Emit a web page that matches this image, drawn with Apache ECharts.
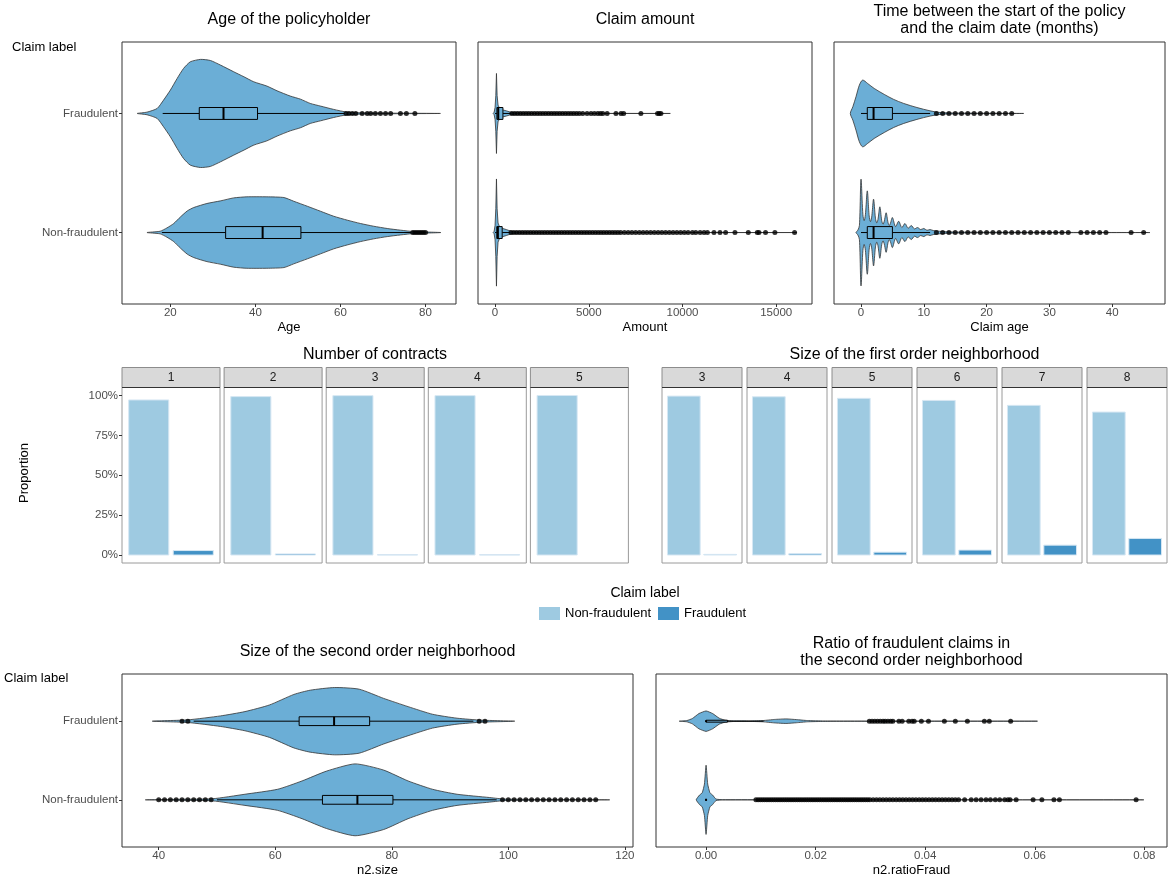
<!DOCTYPE html>
<html>
<head>
<meta charset="utf-8">
<script src="https://cdn.jsdelivr.net/npm/echarts@6/dist/echarts.min.js"></script>
<style>
  html, body { margin: 0; padding: 0; background: #ffffff; }
  #chart { width: 1168px; height: 878px; }
</style>
</head>
<body>
<div id="chart"></div>
<script>
// ---------------------------------------------------------------------------
// Data
// ---------------------------------------------------------------------------
const claimLabels = ['Non-fraudulent', 'Fraudulent'];

// Violin outlines: [value, half-width of the violin in category units]
// Box statistics: [lower whisker, Q1, median, Q3, upper whisker]

// Age of the policyholder
const ageNonFraudDensity = [[14.5,0],[17.6,0.011],[19.2,0.039],[20.8,0.076],[22.4,0.132],[24,0.182],[25.5,0.21],[28.6,0.244],[31.8,0.266],[34.9,0.291],[38,0.3],[42.7,0.3],[46.7,0.294],[49,0.263],[52.2,0.221],[55.3,0.179],[58.4,0.137],[61.6,0.104],[64.7,0.076],[67.8,0.053],[71,0.034],[74.1,0.02],[77.3,0.008],[83.6,0]];
const ageFraudDensity = [[12.2,0],[14.5,0.011],[16.9,0.042],[18.4,0.112],[20,0.196],[21.6,0.294],[23.1,0.378],[24.7,0.434],[27.1,0.454],[29.4,0.445],[31.8,0.406],[34.9,0.35],[37.3,0.308],[39.6,0.266],[42.7,0.23],[45.1,0.19],[48.2,0.146],[50.6,0.12],[52.9,0.084],[55.3,0.062],[58.4,0.034],[61.6,0.011],[66.3,0.004],[83.5,0]];
const ageNonFraudBox = [18, 33, 41.7, 50.7, 76.7];
const ageFraudBox = [18.2, 26.8, 32.5, 40.5, 61];
const ageNonFraudOutliers = [77, 77.5, 78, 78.5, 79, 79.5, 80];
const ageFraudOutliers = [61.3, 62, 62.8, 63.6, 65.1, 66.3, 67.1, 68.2, 69.4, 70.6, 71.8, 74.1, 75.5, 77.5];
const ageTicks = [20, 40, 60, 80];

// Claim amount
const amountNonFraudDensity = [[-100,0],[-50,0.01],[0,0.06],[40,0.2],[75,0.45],[110,0.2],[160,0.08],[250,0.045],[400,0.035],[600,0.025],[800,0.014],[1000,0.007],[1500,0.003],[3000,0.001],[16100,0]];
const amountFraudDensity = [[-100,0],[-50,0.01],[0,0.05],[40,0.15],[75,0.336],[110,0.15],[160,0.07],[250,0.04],[400,0.03],[600,0.022],[800,0.012],[1000,0.006],[1500,0.003],[2500,0.001],[9350,0]];
const amountNonFraudBox = [0, 95, 150, 380, 820];
const amountFraudBox = [0, 100, 170, 420, 880];
const amountNonFraudOutliers = [850, 1000, 1150, 1300, 1450, 1600, 1750, 1900, 2050, 2200, 2350, 2500, 2650, 2800, 2950, 3100, 3250, 3400, 3550, 3700, 3850, 4000, 4150, 4300, 4450, 4600, 4750, 4900, 5050, 5200, 5350, 5500, 5650, 5800, 5950, 6100, 6250, 6400, 6550, 6700, 6900, 7100, 7300, 7500, 7700, 7900, 8100, 8300, 8500, 8700, 8900, 9100, 9300, 9500, 9700, 9900, 10100, 10300, 10530, 10710, 10940, 11150, 11330, 11680, 12000, 12300, 12800, 13510, 13990, 14080, 14430, 14930, 15980];
const amountFraudOutliers = [900, 1050, 1200, 1350, 1500, 1650, 1800, 1950, 2100, 2250, 2400, 2550, 2700, 2850, 3000, 3150, 3300, 3450, 3600, 3750, 3900, 4050, 4200, 4350, 4500, 4680, 4910, 5120, 5300, 5480, 5620, 5750, 5980, 6450, 6720, 6860, 7780, 8670, 8760, 8850];
const amountTicks = [0, 5000, 10000, 15000];

// Time between the start of the policy and the claim date (months)
const claimAgeNonFraudDensity = [[-0.8,0],[-0.5,0.02],[-0.25,0.06],[0,0.448],[0.3,0.15],[0.5,0.1],[0.7,0.15],[1,0.35],[1.3,0.14],[1.5,0.092],[1.7,0.13],[2,0.28],[2.3,0.12],[2.5,0.081],[2.7,0.11],[3,0.216],[3.3,0.1],[3.5,0.07],[3.7,0.095],[4,0.166],[4.3,0.085],[4.5,0.059],[4.7,0.08],[5,0.126],[5.5,0.05],[6,0.095],[6.5,0.042],[7,0.076],[7.5,0.036],[8,0.059],[8.5,0.031],[9,0.042],[9.5,0.025],[10,0.034],[10.5,0.019],[11,0.025],[11.5,0.017],[12,0.014],[13,0.008],[15,0.004],[20,0.002],[46,0]];
const claimAgeFraudDensity = [[-1.7,0],[-1.3,0.056],[-0.8,0.14],[-0.26,0.238],[0.26,0.28],[1.05,0.252],[2.1,0.21],[3.7,0.16],[5.2,0.118],[6.8,0.084],[8.9,0.05],[11,0.022],[12.6,0.008],[15.7,0.003],[25.9,0]];
const claimAgeNonFraudBox = [0, 1, 2, 5, 11];
const claimAgeFraudBox = [0, 1, 2, 5, 11];
const claimAgeNonFraudOutliers = [12, 13, 14, 15, 16, 17, 18, 19, 20, 21, 22, 23, 24, 25, 26, 27, 28, 29, 30, 31, 32, 33, 35, 36, 37, 38, 39, 43, 45];
const claimAgeFraudOutliers = [12, 13, 14, 15, 16, 17, 18, 19, 20, 21, 22, 23, 24];
const claimAgeTicks = [0, 10, 20, 30, 40];

// Number of contracts (share of claims per label, %)
const contractLevels = ['1', '2', '3', '4', '5'];
const contractNonFraudPct = [97.2, 99.3, 99.9, 99.9, 100];
const contractFraudPct = [2.8, 0.7, 0.1, 0.1, 0];

// Size of the first order neighborhood (share of claims per label, %)
const n1Levels = ['3', '4', '5', '6', '7', '8'];
const n1NonFraudPct = [99.6, 99.2, 98.2, 96.9, 93.8, 89.6];
const n1FraudPct = [0.4, 0.8, 1.8, 3.1, 6.2, 10.4];
const proportionTicks = [0, 25, 50, 75, 100];

// Size of the second order neighborhood
const n2SizeNonFraudDensity = [[37.7,0],[43.6,0.006],[49.2,0.013],[54.8,0.071],[60.4,0.134],[64.6,0.24],[68.8,0.365],[73.7,0.457],[78.6,0.378],[82.8,0.24],[87,0.134],[91.2,0.071],[96.8,0.029],[99.6,0.008],[117.4,0]];
const n2SizeFraudDensity = [[38.9,0],[45,0.017],[50.6,0.067],[54.8,0.122],[59,0.206],[63.2,0.34],[66,0.394],[70.2,0.428],[74.4,0.407],[78.6,0.29],[82.8,0.185],[87,0.088],[91.2,0.038],[95.4,0.013],[101.1,0]];
const n2SizeNonFraudBox = [50, 68.1, 74.1, 80.2, 98];
const n2SizeFraudBox = [46, 64.1, 70.1, 76.2, 94];
const n2SizeNonFraudOutliers = [40, 41, 42, 43, 44, 45, 46, 47, 48, 49, 99, 100, 101, 102, 103, 104, 105, 106, 107, 108, 109, 110, 111, 112, 113, 114, 115];
const n2SizeFraudOutliers = [44, 45, 95, 96];
const n2SizeTicks = [40, 60, 80, 100, 120];

// Ratio of fraudulent claims in the second order neighborhood
const ratioNonFraudDensity = [[-0.0018,0],[-0.0012,0.06],[-0.0007,0.09],[-0.0003,0.2],[0,0.44],[0.0003,0.2],[0.0007,0.09],[0.0012,0.06],[0.0018,0.01],[0.003,0.002],[0.01,0.001],[0.0799,0]];
const ratioFraudDensity = [[-0.0049,0],[-0.0035,0.008],[-0.0025,0.034],[-0.0013,0.097],[0,0.13],[0.0012,0.097],[0.0024,0.038],[0.0035,0.012],[0.005,0.004],[0.008,0.003],[0.0104,0.008],[0.0125,0.022],[0.0146,0.029],[0.0165,0.02],[0.0185,0.008],[0.0215,0.003],[0.03,0.001],[0.0605,0]];
const ratioNonFraudBox = [0, 0, 0, 0, 0];
const ratioFraudBox = [0, 0, 0, 0.0039, 0.0105];
const ratioNonFraudOutliers = [0.0091,0.0095,0.0099,0.0103,0.0107,0.0111,0.0115,0.0119,0.0123,0.0127,0.0131,0.0135,0.0139,0.0143,0.0147,0.0151,0.0155,0.0159,0.0163,0.0167,0.0171,0.0175,0.0179,0.0183,0.0187,0.0191,0.0195,0.0199,0.0203,0.0207,0.0211,0.0215,0.0219,0.0223,0.0227,0.0231,0.0235,0.0239,0.0243,0.0247,0.0251,0.0255,0.0259,0.0263,0.0267,0.0271,0.0275,0.0279,0.0283,0.0287,0.0291,0.0295,0.0299,0.0305,0.0311,0.0317,0.0323,0.0329,0.0335,0.0341,0.0347,0.0353,0.0359,0.0365,0.0371,0.0377,0.0383,0.0389,0.0395,0.0401,0.0407,0.0413,0.0419,0.0425,0.0431,0.0437,0.0443,0.0449,0.0455,0.0461,0.0472,0.0484,0.0493,0.0502,0.0511,0.0519,0.0528,0.0536,0.0545,0.0551,0.0555,0.0566,0.0597,0.0613,0.0635,0.0645,0.0785];
const ratioFraudOutliers = [0.0298,0.0303,0.0308,0.0313,0.0318,0.0323,0.0327,0.0332,0.0337,0.0341,0.0352,0.0358,0.037,0.0376,0.038,0.0393,0.0406,0.0435,0.0455,0.0477,0.0508,0.0517,0.0556];
const ratioTicks = [0, 0.02, 0.04, 0.06, 0.08];

// ---------------------------------------------------------------------------
// Styling
// ---------------------------------------------------------------------------
const FONT = '"Liberation Sans", Arial, Helvetica, sans-serif';
const VIOLIN_FILL = '#6baed6';
const VIOLIN_LINE = '#333333';
const NONFRAUD_BAR = '#9ecae1';
const FRAUD_BAR = '#4292c6';
const BAR_EDGE = '#d6e7f3';
const TICK_TEXT = '#4d4d4d';
const TICK_SIZE = 11.5;
const NON_FRAUD_POS = 1;
const FRAUD_POS = 2;

const grids = [];
const xAxes = [];
const yAxes = [];
const series = [];
const graphics = [];

function violinSeries(g, pos, density, smooth) {
  return {
    type: 'custom', xAxisIndex: g, yAxisIndex: g, silent: true, z: 2,
    data: [[density[0][0], pos]],
    renderItem(params, api) {
      const upper = density.map(([v, w]) => api.coord([v, pos + w]));
      const lower = density.slice(1, -1).reverse().map(([v, w]) => api.coord([v, pos - w]));
      return {
        type: 'polygon',
        shape: { points: upper.concat(lower), smooth: smooth },
        style: { fill: VIOLIN_FILL, stroke: VIOLIN_LINE, lineWidth: 0.8 }
      };
    }
  };
}

function boxSeries(g, pos, stats, half) {
  return {
    type: 'custom', xAxisIndex: g, yAxisIndex: g, silent: true, z: 3,
    data: [[stats[2], pos]],
    renderItem(params, api) {
      const [lo, q1, med, q3, hi] = stats;
      const tl = api.coord([q1, pos + half]);
      const br = api.coord([q3, pos - half]);
      const wl = api.coord([lo, pos]);
      const wr = api.coord([hi, pos]);
      const bl = api.coord([q1, pos]);
      const bq = api.coord([q3, pos]);
      const mt = api.coord([med, pos + half]);
      const mb = api.coord([med, pos - half]);
      return {
        type: 'group',
        children: [
          { type: 'line', shape: { x1: wl[0], y1: wl[1], x2: bl[0], y2: bl[1] }, style: { stroke: '#000', lineWidth: 1 } },
          { type: 'line', shape: { x1: bq[0], y1: bq[1], x2: wr[0], y2: wr[1] }, style: { stroke: '#000', lineWidth: 1 } },
          { type: 'rect', shape: { x: tl[0], y: tl[1], width: br[0] - tl[0], height: br[1] - tl[1] }, style: { fill: VIOLIN_FILL, stroke: '#000', lineWidth: 1 } },
          { type: 'line', shape: { x1: mt[0], y1: mt[1], x2: mb[0], y2: mb[1] }, style: { stroke: '#000', lineWidth: 2 } }
        ]
      };
    }
  };
}

function outlierSeries(g, pos, values) {
  return {
    type: 'scatter', xAxisIndex: g, yAxisIndex: g, silent: true, z: 4,
    symbol: 'circle', symbolSize: 5,
    itemStyle: { color: '#000' },
    data: values.map(v => [v, pos])
  };
}

function addViolinPanel(rect, axis, showCategories, parts) {
  const g = grids.length;
  grids.push({ left: rect[0], top: rect[1], width: rect[2], height: rect[3], show: true, borderColor: '#333', borderWidth: 1 });
  xAxes.push({
    gridIndex: g, type: 'value', min: axis.min, max: axis.max,
    name: axis.name, nameLocation: 'middle', nameGap: 17,
    nameTextStyle: { fontSize: 13, color: '#000', fontFamily: FONT },
    axisLine: { show: false }, splitLine: { show: false },
    axisTick: { show: true, length: 3, lineStyle: { color: '#333' }, customValues: axis.ticks },
    axisLabel: { customValues: axis.ticks, formatter: axis.format, fontSize: TICK_SIZE, color: TICK_TEXT, margin: 3, fontFamily: FONT }
  });
  yAxes.push({
    gridIndex: g, type: 'value', min: 0.4, max: 2.6,
    axisLine: { show: false }, splitLine: { show: false },
    axisTick: { show: showCategories, length: 3, lineStyle: { color: '#333' }, customValues: [NON_FRAUD_POS, FRAUD_POS] },
    axisLabel: { show: showCategories, customValues: [NON_FRAUD_POS, FRAUD_POS], formatter: v => claimLabels[Math.round(v) - 1], fontSize: TICK_SIZE, color: TICK_TEXT, margin: 4, fontFamily: FONT }
  });
  parts.forEach(p => series.push(violinSeries(g, p.pos, p.density, axis.smooth)));
  parts.forEach(p => {
    series.push(boxSeries(g, p.pos, p.box, axis.boxHalf));
    series.push(outlierSeries(g, p.pos, p.outliers));
  });
}

function barSeries(g, name, color, x, value) {
  return {
    type: 'custom', name: name, xAxisIndex: g, yAxisIndex: g, silent: true, z: 2,
    itemStyle: { color: color },
    data: [[x, value]],
    renderItem(params, api) {
      const cx = api.value(0);
      const v = api.value(1);
      if (!(v > 0)) return null;
      const a = api.coord([cx - 0.45, v]);
      const b = api.coord([cx + 0.45, 0]);
      return {
        type: 'rect',
        shape: { x: a[0], y: a[1], width: b[0] - a[0], height: b[1] - a[1] },
        style: { fill: color, stroke: BAR_EDGE, lineWidth: 1 }
      };
    }
  };
}

function addBarPanel(rect, level, nonFraud, fraud, showAxis) {
  const g = grids.length;
  grids.push({ left: rect[0], top: rect[1], width: rect[2], height: rect[3], show: true, borderColor: '#9a9a9a', borderWidth: 1 });
  xAxes.push({ gridIndex: g, type: 'value', min: 0.4, max: 2.6, show: false });
  yAxes.push({
    gridIndex: g, type: 'value', min: -5, max: 105, show: showAxis,
    axisLine: { show: false }, splitLine: { show: false },
    axisTick: { show: true, length: 3, lineStyle: { color: '#333' }, customValues: proportionTicks },
    axisLabel: { customValues: proportionTicks, formatter: v => v + '%', fontSize: TICK_SIZE, color: TICK_TEXT, margin: 4, fontFamily: FONT }
  });
  series.push(barSeries(g, claimLabels[0], NONFRAUD_BAR, NON_FRAUD_POS, nonFraud));
  series.push(barSeries(g, claimLabels[1], FRAUD_BAR, FRAUD_POS, fraud));
  // facet strip
  graphics.push({ type: 'rect', shape: { x: rect[0], y: rect[1] - 20, width: rect[2], height: 20 }, style: { fill: '#d9d9d9', stroke: '#8c8c8c', lineWidth: 1 }, silent: true });
  graphics.push({ type: 'line', shape: { x1: rect[0], y1: rect[1], x2: rect[0] + rect[2], y2: rect[1] }, style: { stroke: '#333', lineWidth: 1 }, silent: true, z: 10 });
  graphics.push({ type: 'text', x: rect[0] + rect[2] / 2, y: rect[1] - 10, style: { text: level, fill: '#1a1a1a', fontSize: 12, fontFamily: FONT, align: 'center', verticalAlign: 'middle' }, silent: true });
}

// ---------------------------------------------------------------------------
// Panels
// ---------------------------------------------------------------------------
const TOP_Y = 42, TOP_H = 262;
addViolinPanel([122, TOP_Y, 334, TOP_H],
  { min: 8.63, max: 87.17, ticks: ageTicks, name: 'Age', format: v => String(v), smooth: 0.2, boxHalf: 0.05 },
  true,
  [ { pos: NON_FRAUD_POS, density: ageNonFraudDensity, box: ageNonFraudBox, outliers: ageNonFraudOutliers },
    { pos: FRAUD_POS, density: ageFraudDensity, box: ageFraudBox, outliers: ageFraudOutliers } ]);

addViolinPanel([478, TOP_Y, 334, TOP_H],
  { min: -910, max: 16910, ticks: amountTicks, name: 'Amount', format: v => String(v), smooth: 0, boxHalf: 0.05 },
  false,
  [ { pos: NON_FRAUD_POS, density: amountNonFraudDensity, box: amountNonFraudBox, outliers: amountNonFraudOutliers },
    { pos: FRAUD_POS, density: amountFraudDensity, box: amountFraudBox, outliers: amountFraudOutliers } ]);

addViolinPanel([834, TOP_Y, 331, TOP_H],
  { min: -4.3, max: 48.4, ticks: claimAgeTicks, name: 'Claim age', format: v => String(v), smooth: 0.3, boxHalf: 0.05 },
  false,
  [ { pos: NON_FRAUD_POS, density: claimAgeNonFraudDensity, box: claimAgeNonFraudBox, outliers: claimAgeNonFraudOutliers },
    { pos: FRAUD_POS, density: claimAgeFraudDensity, box: claimAgeFraudBox, outliers: claimAgeFraudOutliers } ]);

const BAR_Y = 387.5, BAR_H = 175.5;
contractLevels.forEach((lvl, i) => {
  addBarPanel([122 + i * 102.1, BAR_Y, 98, BAR_H], lvl, contractNonFraudPct[i], contractFraudPct[i], i === 0);
});
n1Levels.forEach((lvl, i) => {
  addBarPanel([662 + i * 85, BAR_Y, 80, BAR_H], lvl, n1NonFraudPct[i], n1FraudPct[i], false);
});

const BOT_Y = 674, BOT_H = 174;
addViolinPanel([122, BOT_Y, 511, BOT_H],
  { min: 33.7, max: 121.4, ticks: n2SizeTicks, name: 'n2.size', format: v => String(v), smooth: 0.2, boxHalf: 0.056 },
  true,
  [ { pos: NON_FRAUD_POS, density: n2SizeNonFraudDensity, box: n2SizeNonFraudBox, outliers: n2SizeNonFraudOutliers },
    { pos: FRAUD_POS, density: n2SizeFraudDensity, box: n2SizeFraudBox, outliers: n2SizeFraudOutliers } ]);

addViolinPanel([656, BOT_Y, 511, BOT_H],
  { min: -0.00914, max: 0.08414, ticks: ratioTicks, name: 'n2.ratioFraud', format: v => v.toFixed(2), smooth: 0.15, boxHalf: 0.012 },
  false,
  [ { pos: NON_FRAUD_POS, density: ratioNonFraudDensity, box: ratioNonFraudBox, outliers: ratioNonFraudOutliers },
    { pos: FRAUD_POS, density: ratioFraudDensity, box: ratioFraudBox, outliers: ratioFraudOutliers } ]);

// Free-standing labels
graphics.push({ type: 'text', x: 12, y: 47, style: { text: 'Claim label', fill: '#000', fontSize: 13, fontFamily: FONT, align: 'left', verticalAlign: 'middle' }, silent: true });
graphics.push({ type: 'text', x: 4, y: 678, style: { text: 'Claim label', fill: '#000', fontSize: 13, fontFamily: FONT, align: 'left', verticalAlign: 'middle' }, silent: true });
graphics.push({ type: 'text', x: 645, y: 593, style: { text: 'Claim label', fill: '#000', fontSize: 14, fontFamily: FONT, align: 'center', verticalAlign: 'middle' }, silent: true });
graphics.push({ type: 'text', x: 24, y: 473, rotation: Math.PI / 2, style: { text: 'Proportion', fill: '#000', fontSize: 13, fontFamily: FONT, align: 'center', verticalAlign: 'middle' }, silent: true });

const titleStyle = { fontSize: 16, fontWeight: 'normal', color: '#000', fontFamily: FONT, lineHeight: 17 };
const titles = [
  { text: 'Age of the policyholder', left: 289, top: 11 },
  { text: 'Claim amount', left: 645, top: 11 },
  { text: 'Time between the start of the policy\nand the claim date (months)', left: 999.5, top: 3.5 },
  { text: 'Number of contracts', left: 375, top: 346.5 },
  { text: 'Size of the first order neighborhood', left: 914.5, top: 346.5 },
  { text: 'Size of the second order neighborhood', left: 377.5, top: 643 },
  { text: 'Ratio of fraudulent claims in\nthe second order neighborhood', left: 911.5, top: 635 }
].map(t => Object.assign({ textAlign: 'center', padding: 0, itemGap: 0, textStyle: titleStyle }, t));

const chart = echarts.init(document.getElementById('chart'), null, { renderer: 'canvas' });
chart.setOption({
  animation: false,
  backgroundColor: '#ffffff',
  textStyle: { fontFamily: FONT },
  title: titles,
  legend: {
    data: claimLabels, left: 539, top: 607, orient: 'horizontal',
    itemWidth: 21, itemHeight: 13, itemGap: 7, padding: 0, icon: 'rect',
    selectedMode: false,
    itemStyle: { borderWidth: 0 },
    textStyle: { fontSize: 13, color: '#000', fontFamily: FONT }
  },
  grid: grids,
  xAxis: xAxes,
  yAxis: yAxes,
  series: series,
  graphic: graphics
});
</script>
</body>
</html>
